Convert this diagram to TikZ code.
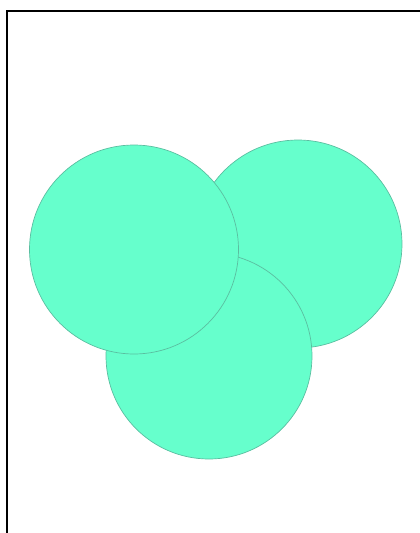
\documentclass[tikz,border=0pt]{standalone}
\definecolor{mint}{RGB}{102,255,204}
\definecolor{mintedge}{RGB}{90,190,160}
\begin{document}
\begin{tikzpicture}[x=1pt,y=-1pt,
  blob/.style={circle,fill=mint,draw=mintedge,line width=0.7pt,inner sep=0pt},
  frameline/.style={line width=2.6pt,black}]
\useasboundingbox (0,0) rectangle (420,533);
\draw[frameline] (7,540) -- (7,11) -- (425,11);
\node[blob,minimum size=208pt] (right) at (298,244) {};
\node[blob,minimum size=206pt] (bottom) at (209,356) {};
\node[blob,minimum size=209pt] (left) at (134,249.5) {};
\end{tikzpicture}
\end{document}
